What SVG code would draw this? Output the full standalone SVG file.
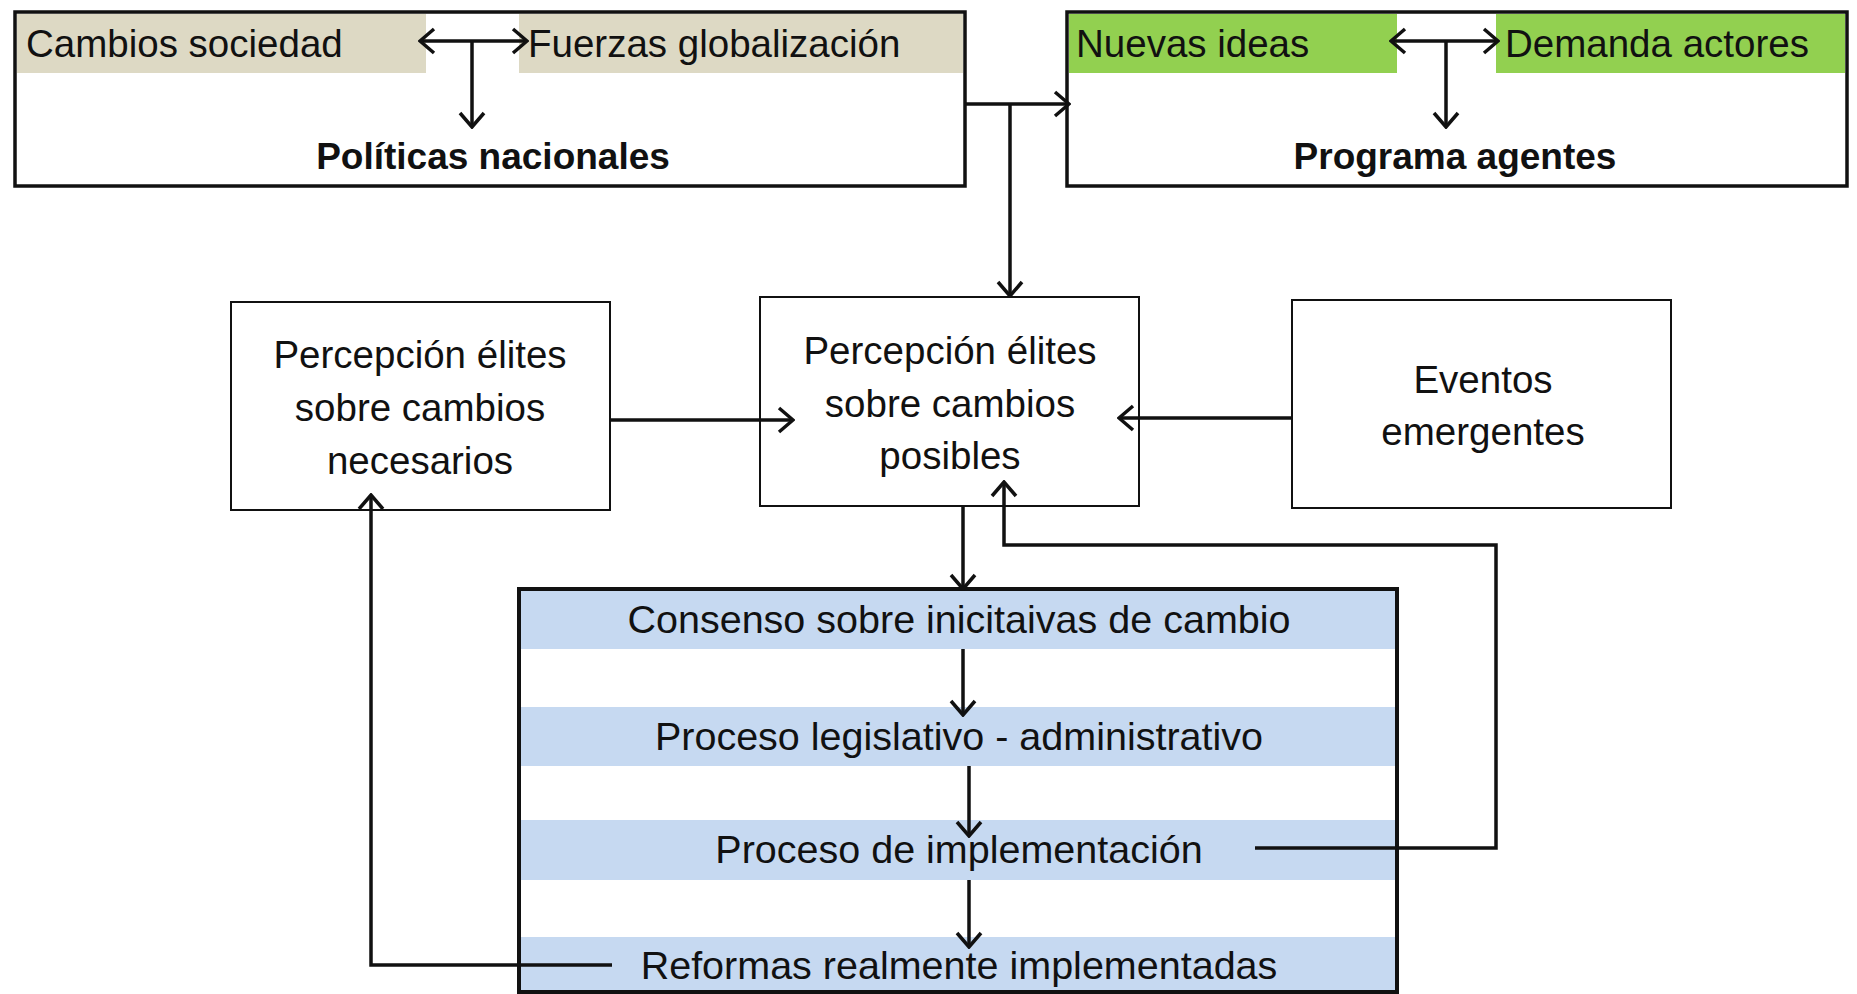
<svg xmlns="http://www.w3.org/2000/svg" width="1857" height="994" viewBox="0 0 1857 994">
<style>
.t{font-family:"Liberation Sans",Arial,sans-serif;font-size:38.5px;fill:#111}
.tb{font-size:39.5px}
.b{font-family:"Liberation Sans",Arial,sans-serif;font-size:37px;font-weight:bold;fill:#111}
.c{text-anchor:middle}
.box{fill:#fff;stroke:#111}
.con{fill:none;stroke:#111;stroke-width:3.5}
</style>
<defs>
<marker id="ah" viewBox="-17 -14 19 28" markerWidth="19" markerHeight="28" refX="0" refY="0" orient="auto-start-reverse" markerUnits="userSpaceOnUse">
<path d="M-14,-12 L0,0 L-14,12" fill="none" stroke="#111" stroke-width="3.5"/>
</marker>
</defs>
<rect width="1857" height="994" fill="#fff"/>
<g id="politicas">
<rect class="box" x="15" y="12" width="950" height="174" stroke-width="3.5"/>
<rect x="17" y="14" width="409" height="59" fill="#DDD9C4"/>
<rect x="519" y="14" width="444" height="59" fill="#DDD9C4"/>
<text class="t" x="26" y="57">Cambios sociedad</text>
<text class="t" x="528" y="57">Fuerzas globalización</text>
<text class="b c" x="493" y="169">Políticas nacionales</text>
</g>
<g id="programa">
<rect class="box" x="1067" y="12" width="780" height="174" stroke-width="3.5"/>
<rect x="1069" y="14" width="328" height="59" fill="#92D050"/>
<rect x="1496" y="14" width="349" height="59" fill="#92D050"/>
<text class="t" x="1076" y="57">Nuevas ideas</text>
<text class="t" x="1505" y="57">Demanda actores</text>
<text class="b c" x="1455" y="169">Programa agentes</text>
</g>
<g id="necesarios">
<rect class="box" x="231" y="302" width="379" height="208" stroke-width="2"/>
<text class="t c" x="420" y="368">Percepción élites</text>
<text class="t c" x="420" y="421">sobre cambios</text>
<text class="t c" x="420" y="474">necesarios</text>
</g>
<g id="posibles">
<rect class="box" x="760" y="297" width="379" height="209" stroke-width="2"/>
<text class="t c" x="950" y="364">Percepción élites</text>
<text class="t c" x="950" y="417">sobre cambios</text>
<text class="t c" x="950" y="469">posibles</text>
</g>
<g id="eventos">
<rect class="box" x="1292" y="300" width="379" height="208" stroke-width="2"/>
<text class="t c" x="1483" y="393">Eventos</text>
<text class="t c" x="1483" y="445">emergentes</text>
</g>
<g id="proceso">
<rect x="519" y="589" width="878" height="403" fill="#fff"/>
<rect x="521" y="591" width="874" height="58" fill="#C6D9F1"/>
<rect x="521" y="707" width="874" height="59" fill="#C6D9F1"/>
<rect x="521" y="820" width="874" height="60" fill="#C6D9F1"/>
<rect x="521" y="937" width="874" height="53" fill="#C6D9F1"/>
<rect x="519" y="589" width="878" height="403" fill="none" stroke="#111" stroke-width="4"/>
<text class="t tb c" x="959" y="633">Consenso sobre inicitaivas de cambio</text>
<text class="t tb c" x="959" y="750">Proceso legislativo - administrativo</text>
<text class="t tb c" x="959" y="863">Proceso de implementación</text>
<text class="t tb c" x="959" y="979">Reformas realmente implementadas</text>
</g>
<g id="connectors">
<path class="con" d="M420,41 H527" marker-start="url(#ah)" marker-end="url(#ah)"/>
<path class="con" d="M472,41 V127" marker-end="url(#ah)"/>
<path class="con" d="M1391,41 H1498" marker-start="url(#ah)" marker-end="url(#ah)"/>
<path class="con" d="M1446,41 V127" marker-end="url(#ah)"/>
<path class="con" d="M965,104 H1069" stroke-width="5" marker-end="url(#ah)"/>
<path class="con" d="M1010,104 V296" marker-end="url(#ah)"/>
<path class="con" d="M610,420 H793" marker-end="url(#ah)"/>
<path class="con" d="M1291,418 H1119" marker-end="url(#ah)"/>
<path class="con" d="M963,506 V589" marker-end="url(#ah)"/>
<path class="con" d="M963,649 V715" marker-end="url(#ah)"/>
<path class="con" d="M969,766 V836" marker-end="url(#ah)"/>
<path class="con" d="M969,880 V947" marker-end="url(#ah)"/>
<path class="con" d="M1255,848 H1496 V545 H1004 V482" marker-end="url(#ah)"/>
<path class="con" d="M612,965 H371 V495" marker-end="url(#ah)"/>
</g>
</svg>
